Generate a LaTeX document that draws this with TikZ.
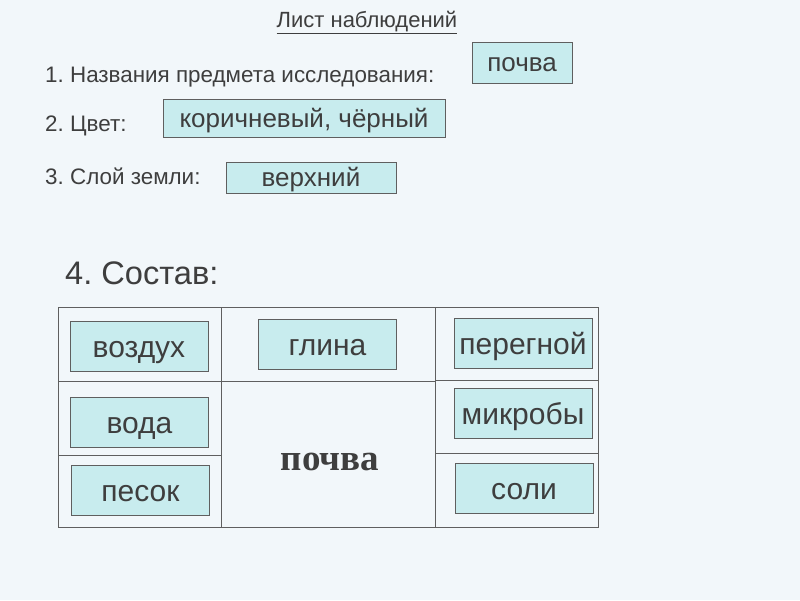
\documentclass[tikz,border=0pt]{standalone}
\usepackage{fontspec}
\setmainfont{Liberation Sans}
\newfontfamily\serifbold{Liberation Serif}
\definecolor{pageBG}{RGB}{242,247,250}
\definecolor{cardBG}{RGB}{200,236,238}
\definecolor{ink}{RGB}{62,62,62}
\definecolor{rule}{RGB}{95,95,95}
\frenchspacing

\begin{document}
\begin{tikzpicture}[x=1pt,y=-1pt,
    item/.style={anchor=base west,text=ink,inner sep=0pt,
                 font=\fontsize{22.4}{26}\selectfont},
    card/.style={draw=rule,fill=cardBG,text=ink,inner sep=0pt,
                 text height=23pt,text depth=4.5pt,
                 font=\fontsize{26}{30}\selectfont},
    bigcard/.style={card,minimum width=138,minimum height=50,
                 text height=26pt,text depth=4pt,
                 font=\fontsize{30}{34}\selectfont},
    grid/.style={draw=rule,line width=0.9pt},
  ]

    % Page
    \fill[pageBG] (0,0) rectangle (800,600);
    \useasboundingbox (0,0) rectangle (800,600);

    % Title
    \node[text=ink,inner sep=0pt,anchor=base,font=\fontsize{22}{26}\selectfont]
      (title) at (367,27) {\underline{Лист наблюдений}};

    % Questions
    \node[item] (q1) at (45,82) {1. Названия предмета исследования:};
    \node[item] (q2) at (45,131) {2. Цвет:};
    \node[item] (q3) at (45,184) {3. Слой земли:};
    \node[item,font=\fontsize{32.6}{36}\selectfont] (q4) at (65,284) {4. Состав:};

    % Answers
    \node[card,minimum width=100,minimum height=41] (subject) at (522,62.5) {почва};
    \node[card,minimum width=282,minimum height=38] (colour) at (304,118) {коричневый, чёрный};
    \node[card,minimum width=170,minimum height=31] (layer) at (311,177.5) {верхний};

    % Table
    \draw[grid] (58,307) rectangle (598,527);
    \draw[grid] (221,307) -- (221,527);
    \draw[grid] (435,307) -- (435,527);
    \draw[grid] (58,381) -- (435,381);
    \draw[grid] (58,455) -- (221,455);
    \draw[grid] (435,380) -- (598,380);
    \draw[grid] (435,453) -- (598,453);

    % Components
    \node[bigcard] (air)     at (139,346) {воздух};
    \node[bigcard] (clay)    at (327.5,344.5) {глина};
    \node[bigcard] (humus)   at (523,343.5) {перегной};
    \node[bigcard] (water)   at (139.5,422) {вода};
    \node[bigcard] (microbe) at (523,413) {микробы};
    \node[bigcard] (sand)    at (140.5,490.5) {песок};
    \node[bigcard] (salt)    at (524,488) {соли};

    \node[text=ink,inner sep=0pt,font=\serifbold\bfseries\fontsize{37}{40}\selectfont]
      (soil) at (330,462) {почва};

  \end{tikzpicture}
\end{document}
